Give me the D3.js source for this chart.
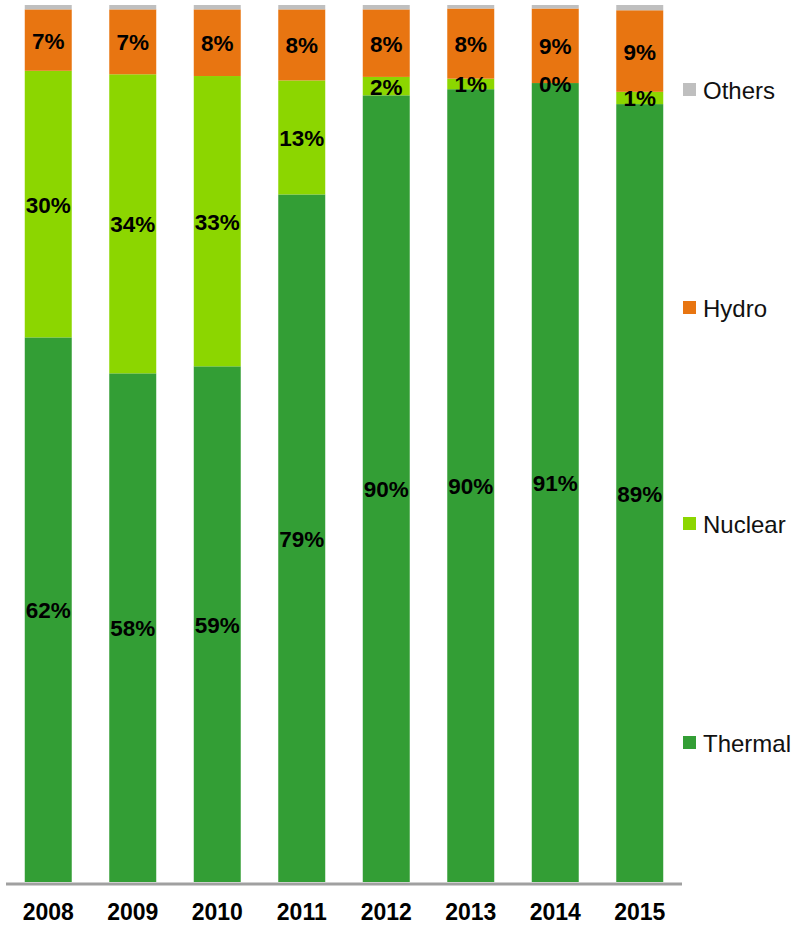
<!DOCTYPE html>
<html><head><meta charset="utf-8">
<script src="https://cdn.jsdelivr.net/npm/d3@7"></script>
<style>body{margin:0;background:#fff;} text{font-family:"Liberation Sans",Arial,sans-serif;}</style>
</head><body>
<svg id="c" width="794" height="925"></svg>
<script>
const years = ["2008","2009","2010","2011","2012","2013","2014","2015"];
const seriesNames = ["Thermal","Nuclear","Hydro","Others"];
const thermal = [62.1, 58.0, 58.8, 78.4, 89.7, 90.4, 91.1, 88.7];
const nuclear = [30.4, 34.1, 33.1, 13.0, 2.1, 1.2, 0.0, 1.4];
const hydro   = [7.0, 7.4, 7.6, 8.1, 7.7, 8.0, 8.5, 9.3];
const others  = [0.5, 0.5, 0.5, 0.5, 0.5, 0.4, 0.4, 0.6];
const thermalLabels = ["62%","58%","59%","79%","90%","90%","91%","89%"];
const nuclearLabels = ["30%","34%","33%","13%","2%","1%","0%","1%"];
const hydroLabels   = ["7%","7%","8%","8%","8%","8%","9%","9%"];
const colors = {Thermal:"#339E35", Nuclear:"#8CD600", Hydro:"#E87511", Others:"#BFBFBF"};

const svg = d3.select("#c");
const x = d3.scaleBand().domain(years).range([6, 682]).paddingInner(0.444).paddingOuter(0.222);
const table = years.map((y,i)=>({year:y, Thermal:thermal[i], Nuclear:nuclear[i], Hydro:hydro[i], Others:others[i]}));
const stacked = d3.stack().keys(seriesNames).offset(d3.stackOffsetExpand)(table);
const y = d3.scaleLinear().domain([0,1]).range([882, 5]);
const labels = {Thermal:thermalLabels, Nuclear:nuclearLabels, Hydro:hydroLabels};

stacked.forEach(s=>{
  const g = svg.append("g");
  g.selectAll("rect").data(s).join("rect")
    .attr("x", d=>x(d.data.year)).attr("width", x.bandwidth())
    .attr("y", d=>y(d[1])).attr("height", d=>y(d[0])-y(d[1]))
    .attr("fill", colors[s.key]);
});
stacked.forEach(s=>{
  if(!labels[s.key]) return;
  svg.append("g").selectAll("text").data(s).join("text")
    .attr("x", d=>x(d.data.year)+x.bandwidth()/2)
    .attr("y", d=>(y(d[0])+y(d[1]))/2 + 1)
    .attr("text-anchor","middle").attr("dominant-baseline","central")
    .attr("font-size",22.5).attr("font-weight","bold").attr("fill","#000")
    .text((d,i)=>labels[s.key][i]);
});

// axis
const ax = svg.append("g").attr("transform","translate(0,884)")
  .call(d3.axisBottom(x).tickSize(0).tickPadding(20));
ax.select(".domain").attr("stroke","#A0A0A0").attr("stroke-width",3).attr("d","M6,0H682");
ax.selectAll("text").attr("font-size",23).attr("font-weight","bold").attr("fill","#000")
  .style("font-family","'Liberation Sans',Arial,sans-serif");

// legend
const legendY = {Others:90, Hydro:308, Nuclear:524, Thermal:743};
const lg = svg.append("g");
seriesNames.forEach(k=>{
  lg.append("rect").attr("x",683).attr("y",legendY[k]-7).attr("width",13).attr("height",13).attr("fill",colors[k]);
  lg.append("text").attr("x",703).attr("y",legendY[k]).attr("dominant-baseline","central")
    .attr("font-size",24).attr("fill","#111").text(k);
});
</script>
</body></html>
